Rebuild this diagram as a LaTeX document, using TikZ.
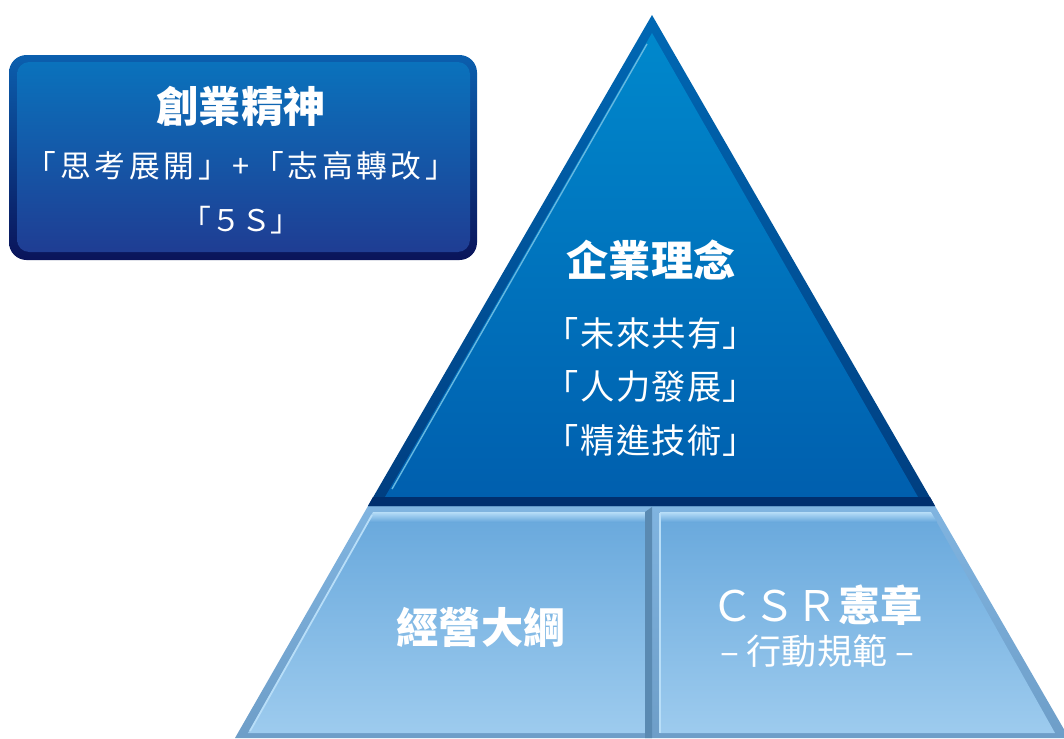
\documentclass[tikz,border=0pt]{standalone}
\usepackage{fontspec}
\usepackage{tikz}
\newfontfamily\cjk{Noto Sans CJK TC}
\newfontfamily\cjkwide{Noto Sans CJK TC}[LetterSpace=12]
\newfontfamily\cjkmid{Noto Sans CJK TC}[LetterSpace=4]
\definecolor{ringtop}{HTML}{0B5FAE}
\definecolor{ringbot}{HTML}{0A145A}
\definecolor{boxtop}{HTML}{0A72BC}
\definecolor{boxmid}{HTML}{1A4799}
\definecolor{boxbot}{HTML}{1F3D93}
\definecolor{tritop}{HTML}{0068B4}
\definecolor{tribot}{HTML}{003E80}
\definecolor{fill top}{HTML}{0088CC}
\definecolor{fill bot}{HTML}{005FAE}
\definecolor{band}{HTML}{002F6E}
\definecolor{rimtop}{HTML}{80B4E0}
\definecolor{rimbot}{HTML}{6E9EC8}
\definecolor{paneltop}{HTML}{68A8DC}
\definecolor{panelbot}{HTML}{9DCBEE}
\definecolor{shine}{HTML}{B8DEF8}
\definecolor{divider}{HTML}{5A8AB2}
\tikzset{
  title/.style={text=white,inner sep=0pt,font=\cjk\bfseries\fontsize{24}{28}\selectfont},
  motto/.style={text=white,inner sep=0pt,font=\cjkwide\fontsize{17.5}{21}\selectfont},
  creed/.style={text=white,inner sep=0pt,font=\cjkmid\fontsize{19.5}{23}\selectfont}
}

\begin{document}
\begin{tikzpicture}[x=0.02cm,y=-0.02cm]
      \useasboundingbox (0,0) rectangle (1064,738);

      \shade[top color=ringtop,bottom color=ringbot,rounded corners=10pt] (9,55) rectangle (477,260);
      \shade[top color=boxtop,middle color=boxmid,bottom color=boxbot,rounded corners=7pt] (17,62) rectangle (470,252);

      \shade[top color=rimtop,bottom color=rimbot] (368,506) -- (935,506) -- (1069,738) -- (235,738) -- cycle;
      \shade[top color=paneltop,bottom color=panelbot] (373,512) -- (645,512) -- (645,733) -- (248,733) -- cycle;
      \shade[top color=paneltop,bottom color=panelbot] (660,512) -- (931,512) -- (1055,733) -- (660,733) -- cycle;
      \shade[top color=shine,bottom color=paneltop] (373,512) -- (645,512) -- (645,522) -- (367,522) -- cycle;
      \shade[top color=shine,bottom color=paneltop] (660,512) -- (931,512) -- (937,522) -- (660,522) -- cycle;
      \draw[shine,line width=1pt] (372,515) -- (250,731);
      \draw[shine,line width=1pt] (660,513) -- (660,733);
      \fill[divider] (645,512) -- (652,507) -- (652,738) -- (645,738) -- cycle;

      \shade[top color=tritop,bottom color=tribot] (652,15) -- (935,506) -- (368,506) -- cycle;
      \shade[top color=fill top,bottom color=fill bot] (652,33) -- (918,497) -- (385,497) -- cycle;
      \fill[band] (373,497) -- (930,497) -- (935,506) -- (368,506) -- cycle;
      \draw[fill top!60!white,line width=0.8pt] (647,44) -- (392,489);

      \node[title] (spirit) at (241,106) {創業精神};
      \node[motto,below of=spirit,yshift=-0.2cm] (mottoa) {「思考展開」+「志高轉改」};
      \node[motto,font=\cjk\fontsize{17}{20}\selectfont,below of=mottoa,yshift=-0.08cm] (mottob) {「５Ｓ」};

      \node[title] (idea) at (651,260) {企業理念};
      \node[creed,below of=idea,yshift=-0.46cm] (share) {「未來共有」};
      \node[creed,below of=share,yshift=-0.06cm] (talent) {「人力發展」};
      \node[creed,below of=talent,yshift=-0.1cm] (skill) {「精進技術」};

      \node[title] (outline) at (481,627) {經營大綱};
      \node[title] (csr) at (817,605) {{\mdseries ＣＳＲ}憲章};
      \node[text=white,inner sep=0pt,font=\cjk\fontsize{20}{24}\selectfont,below of=csr,yshift=0.08cm] (conduct) {– 行動規範 –};
    \end{tikzpicture}
\end{document}
